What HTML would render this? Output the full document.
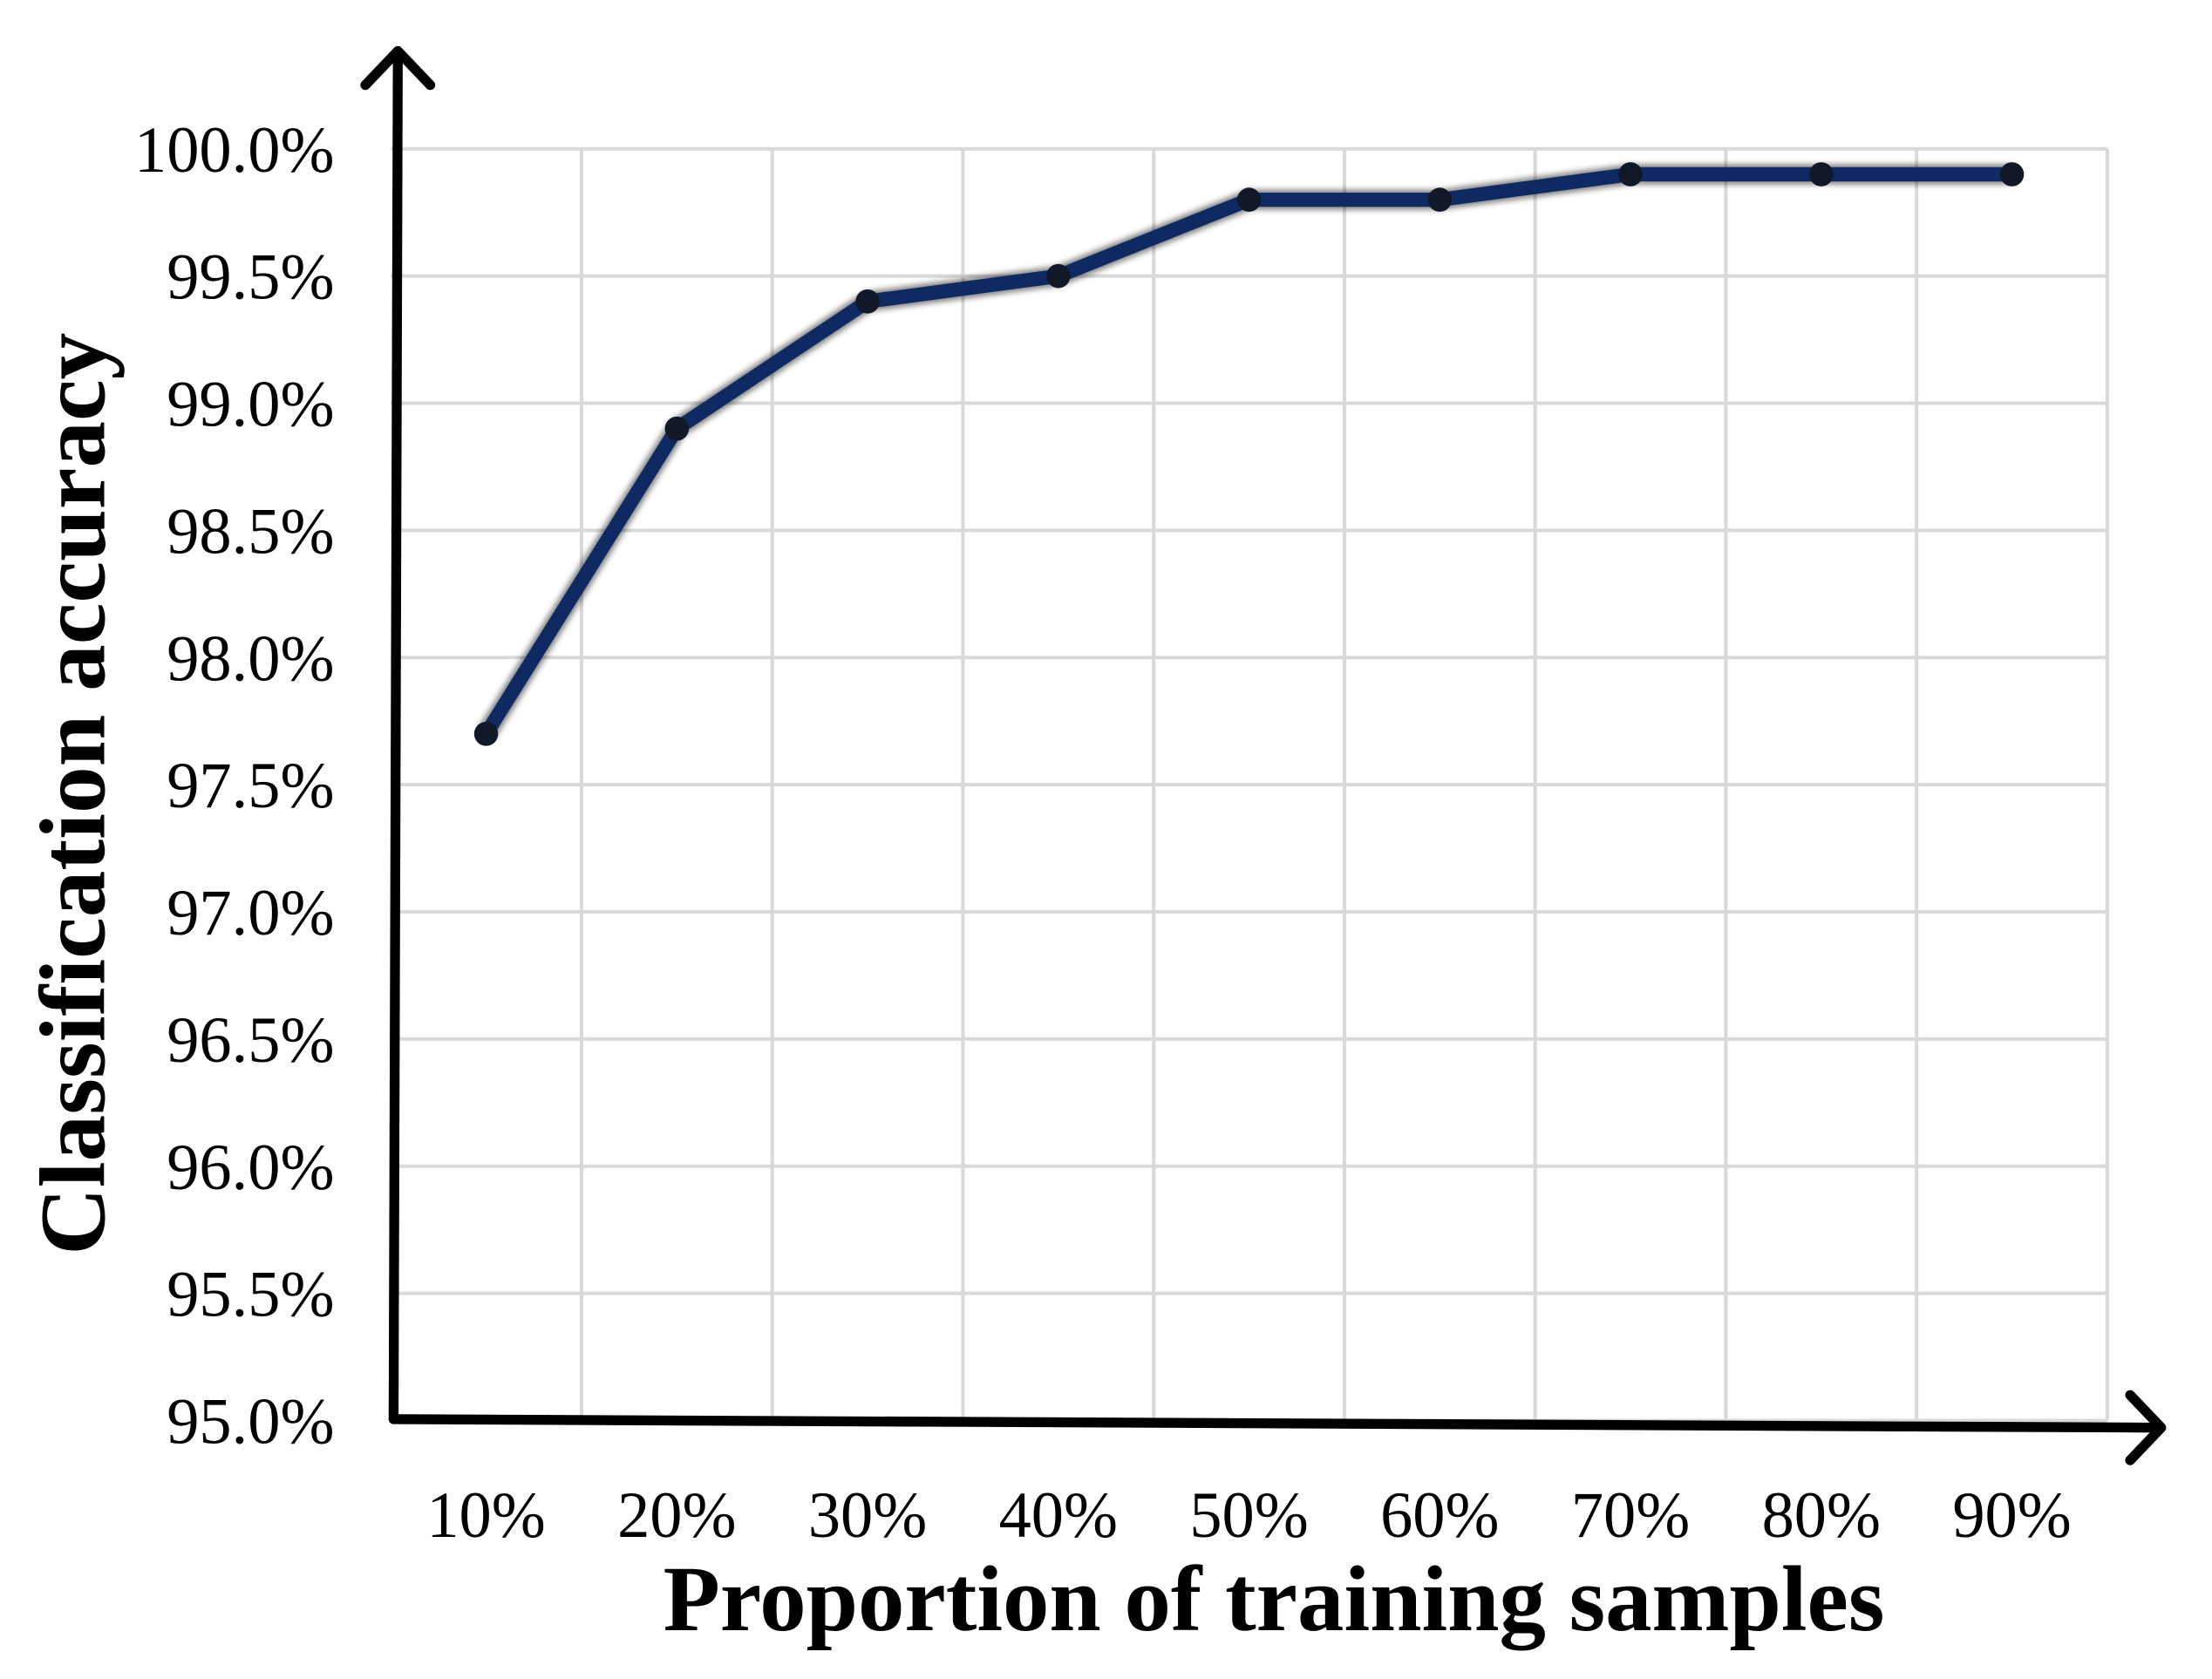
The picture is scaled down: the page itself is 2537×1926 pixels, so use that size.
<!DOCTYPE html>
<html><head><meta charset="utf-8"><style>html,body{margin:0;padding:0;background:#fff}svg{display:block}</style></head>
<body>
<svg width="2537" height="1926" viewBox="0 0 1568 1184.3" preserveAspectRatio="none" xmlns="http://www.w3.org/2000/svg">
<defs><filter id="blur" x="-5%" y="-5%" width="110%" height="110%"><feGaussianBlur stdDeviation="2.2"/></filter></defs>
<g id="grid"></g>
<g id="yticks" font-family="Liberation Serif, serif" font-size="46" text-anchor="end" fill="#000"></g>
<g id="xticks" font-family="Liberation Serif, serif" font-size="46" text-anchor="middle" fill="#000"></g>
<g stroke="#000" stroke-width="7" fill="none" stroke-linecap="round" stroke-linejoin="round">
  <path d="M282,38 L279,1001"/>
  <path d="M259,60 L282,36 L305,60"/>
  <path d="M279,1001 L1530,1007"/>
  <path d="M1510,984 L1532,1007 L1510,1030"/>
</g>
<g id="series"></g>
<text x="903" y="1150" font-family="Liberation Serif, serif" font-weight="bold" font-size="66" text-anchor="middle">Proportion of training samples</text>
<text transform="translate(74,560) rotate(-90)" font-family="Liberation Serif, serif" font-weight="bold" font-size="66" text-anchor="middle">Classification accuracy</text>
</svg>
<script>
const categories = ["10%","20%","30%","40%","50%","60%","70%","80%","90%"];
const accuracy = [97.7, 98.9, 99.4, 99.5, 99.8, 99.8, 99.9, 99.9, 99.9];
const yTicks = [95.0, 95.5, 96.0, 96.5, 97.0, 97.5, 98.0, 98.5, 99.0, 99.5, 100.0];

const NS = "http://www.w3.org/2000/svg";
const yMin = 95, yMax = 100, yTop = 105, yBot = 1002;
const xLeft = 277, step = 135.2;
function yScale(v){ return yBot - (v - yMin) / (yMax - yMin) * (yBot - yTop); }
function xScale(i){ return xLeft + step * (i + 0.5); }
function mk(tag, attrs, parent){ const e = document.createElementNS(NS, tag); for (const k in attrs) e.setAttribute(k, attrs[k]); parent.appendChild(e); return e; }

const grid = document.getElementById('grid');
yTicks.forEach(t => {
  const y = yScale(t);
  const l = mk('line', {x1: xLeft, x2: xLeft + step * categories.length, y1: y, y2: y, stroke: '#d9d9d9', 'stroke-width': 2.5}, grid);
  
  
  const tx = mk('text', {x: 237, y: y + 16}, document.getElementById('yticks'));
  tx.textContent = t.toFixed(1) + '%';
  
  
});
for (let i = 1; i <= categories.length; i++) {
  const x = xLeft + step * i;
  const l = mk('line', {x1: x, x2: x, y1: yTop, y2: yBot, stroke: '#d9d9d9', 'stroke-width': 2.5}, grid);
  
  
}
categories.forEach((c, i) => {
  const tx = mk('text', {x: xScale(i), y: 1084}, document.getElementById('xticks'));
  tx.textContent = c;
  
  
});
const s = document.getElementById('series');
const pts = accuracy.map((v, i) => xScale(i) + ',' + yScale(v)).join(' ');
const sh = mk('polyline', {points: pts, fill: 'none', stroke: '#000', 'stroke-width': 14, 'stroke-linejoin': 'round', opacity: 0.5, filter: 'url(#blur)'}, s);


const ln = mk('polyline', {points: pts, fill: 'none', stroke: '#0f2a62', 'stroke-width': 10, 'stroke-linejoin': 'round'}, s);


accuracy.forEach((v, i) => {
  const c = mk('circle', {cx: xScale(i), cy: yScale(v), r: 8.5, fill: '#111827'}, s);
  
  
});
</script>
</body></html>
